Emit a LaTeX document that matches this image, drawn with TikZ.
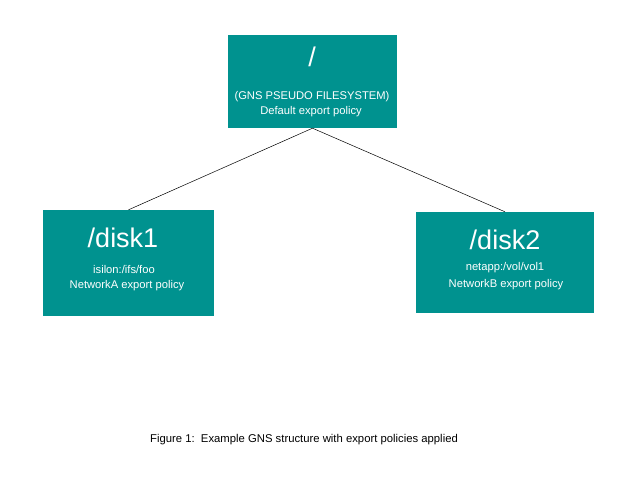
\documentclass[tikz,border=0pt]{standalone}
\usepackage{fontspec}
\setmainfont{Liberation Sans}
\usepackage{xcolor}
\usepackage{tikz}
\usetikzlibrary{positioning}

\definecolor{gnsteal}{RGB}{0,146,143}

\begin{document}
\begin{tikzpicture}[x=1pt,y=-1pt,
    box/.style={fill=gnsteal,draw=none,inner sep=0pt},
    big/.style={text=white,font=\fontsize{27}{27}\selectfont,inner sep=0pt},
    small/.style={text=white,font=\fontsize{11.2}{13}\selectfont,inner sep=0pt}]
      \useasboundingbox (0,0) rectangle (639,479);

      \node[box,minimum width=169pt,minimum height=93pt] (root)  at (312.5,81.5) {};
      \node[box,minimum width=171pt,minimum height=106pt] (disk1) at (128.5,263) {};
      \node[box,minimum width=178pt,minimum height=101pt] (disk2) at (505,262.5) {};

      \node[big]   (rootname)  at (312,57)  {/};
      \node[small] (rootfs)    at (312,97)  {(GNS PSEUDO FILESYSTEM)};
      \node[small] (rootpol)   at (311,112) {Default export policy};

      \node[big]   (d1name)    at (123,238) {/disk1};
      \node[small] (d1src)     at (124,269) {isilon:/ifs/foo};
      \node[small] (d1pol)     at (127,286) {NetworkA export policy};

      \node[big]   (d2name)    at (505,240) {/disk2};
      \node[small] (d2src)     at (505,268) {netapp:/vol/vol1};
      \node[small] (d2pol)     at (506,285) {NetworkB export policy};

      \path[draw,line width=0.5pt] (root.south) -- (disk1.north)
                                   (root.south) -- (disk2.north);

      \node[font=\fontsize{11.3}{13}\selectfont,inner sep=0pt] (caption) at (304,440)
            {Figure 1:\ \ Example GNS structure with export policies applied};
\end{tikzpicture}
\end{document}
